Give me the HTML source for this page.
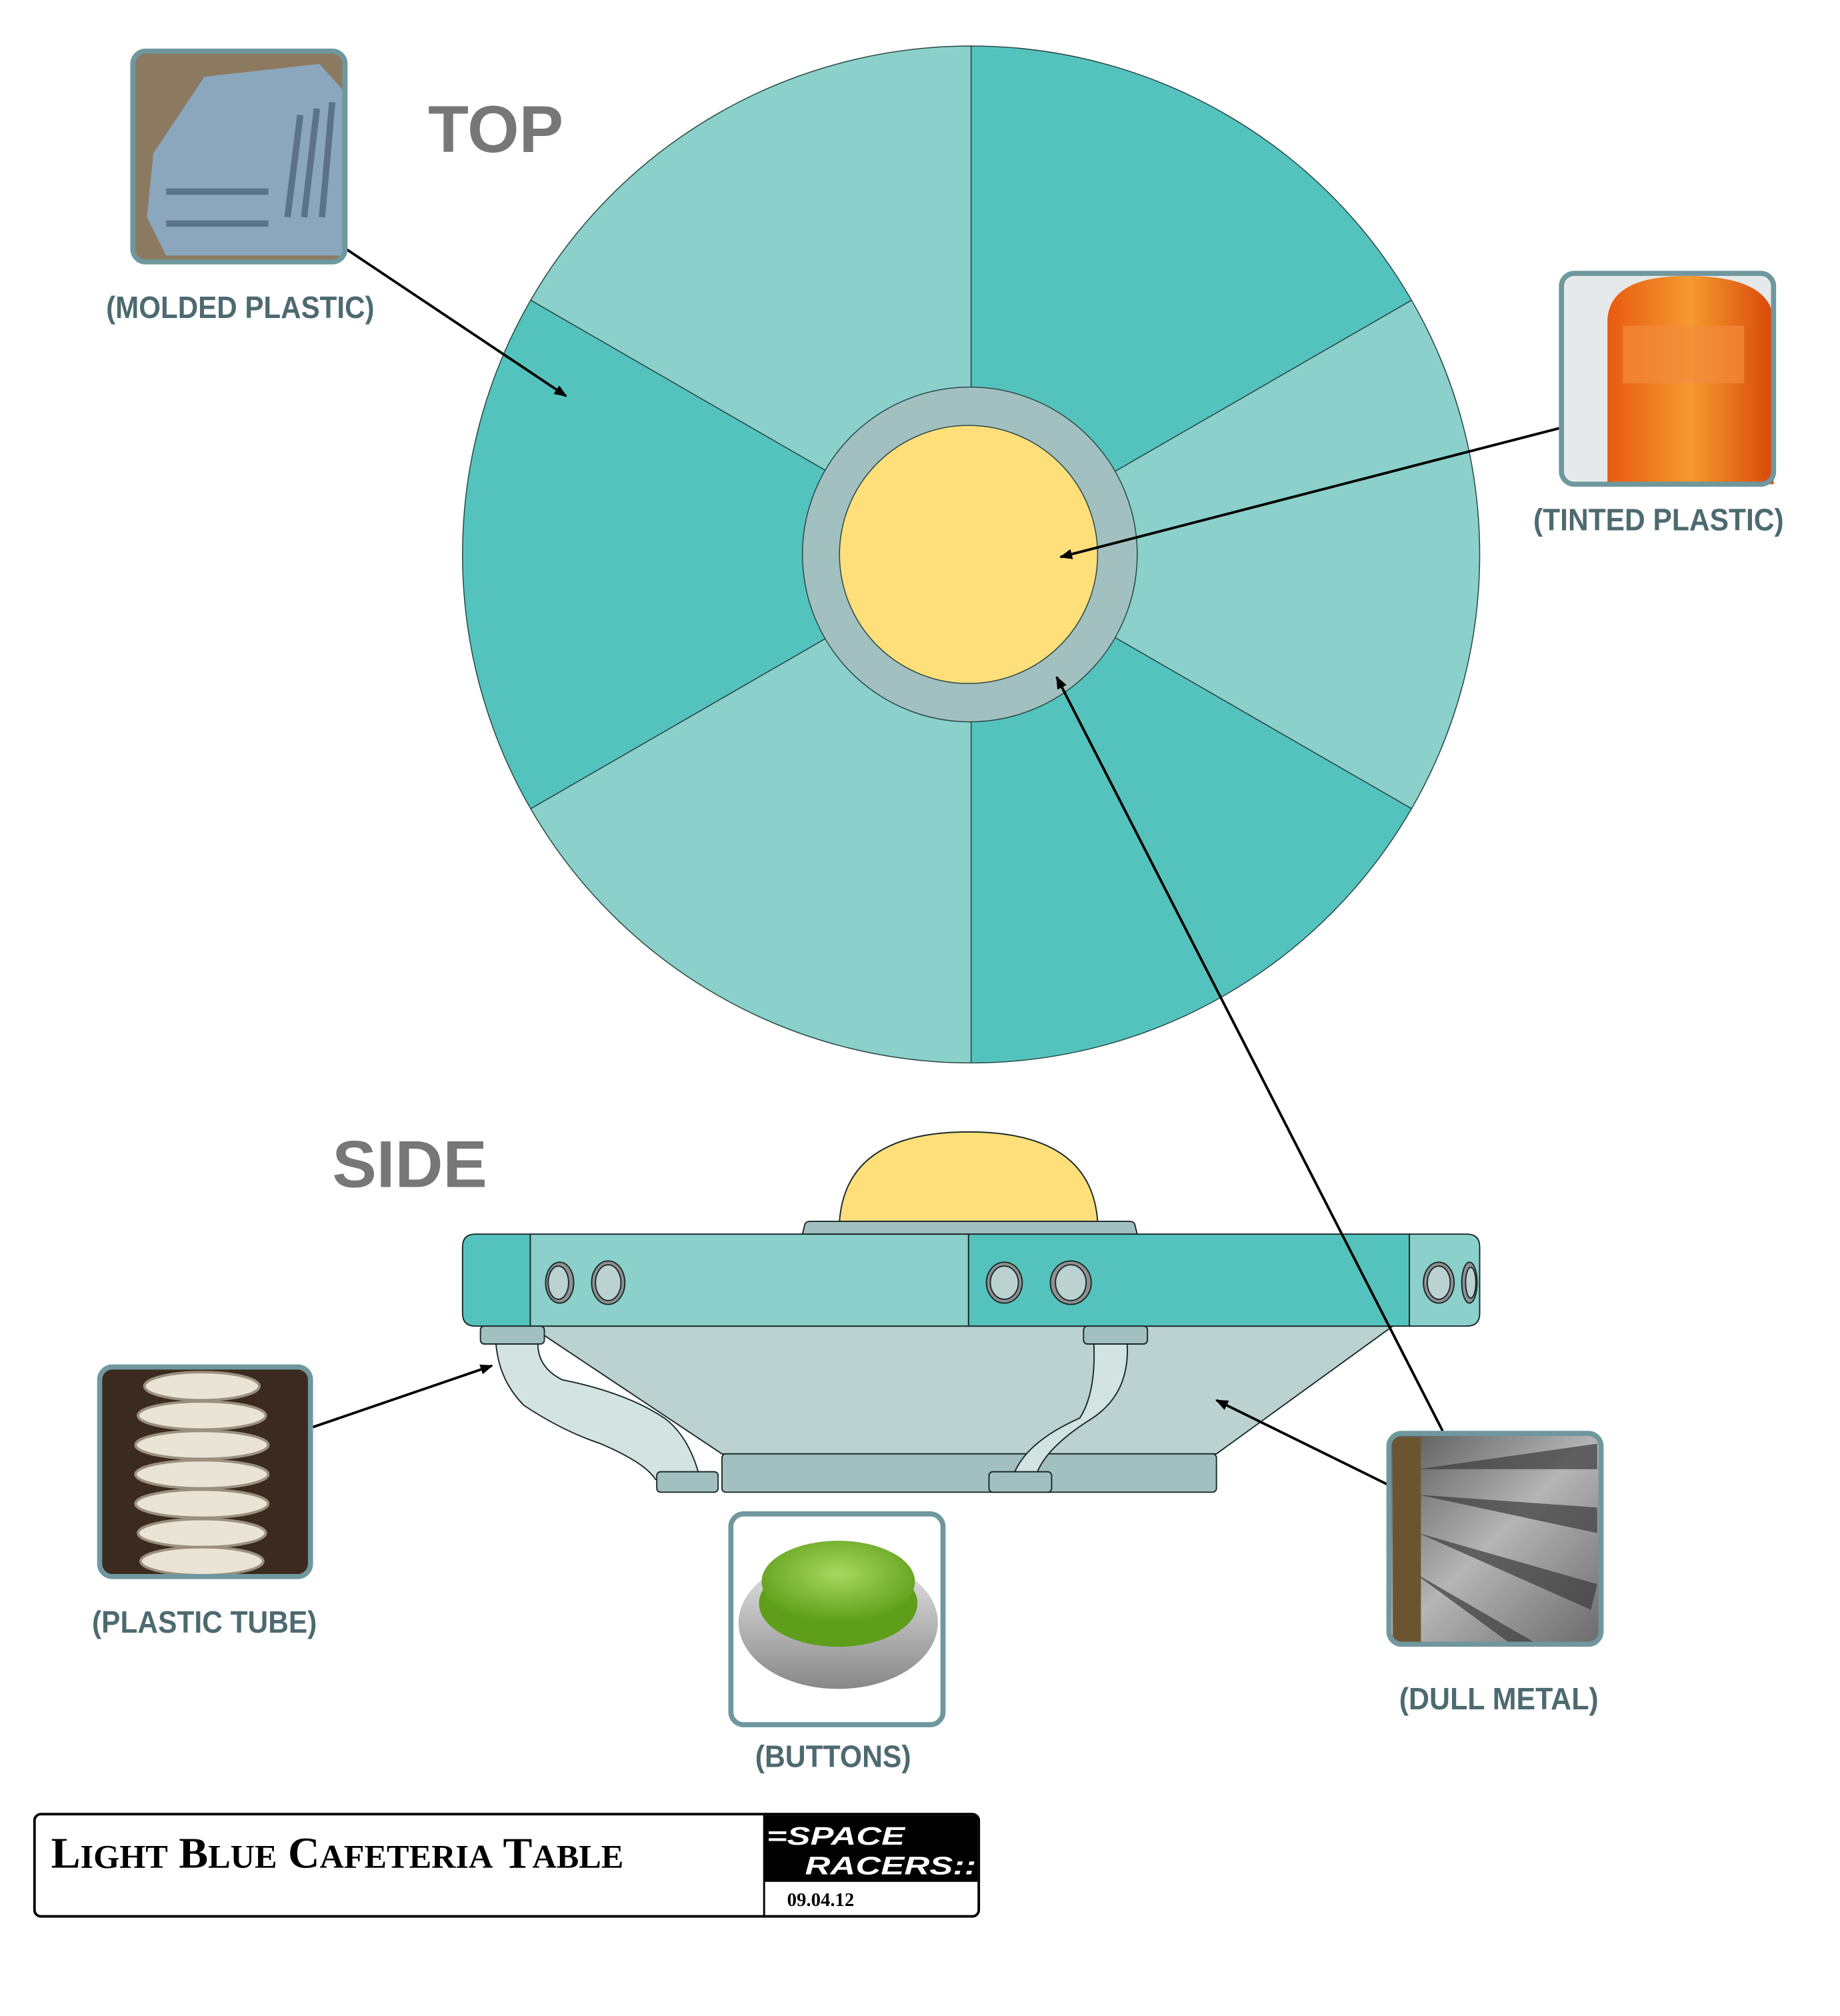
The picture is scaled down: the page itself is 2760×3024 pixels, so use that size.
<!DOCTYPE html>
<html><head><meta charset="utf-8"><style>
html,body{margin:0;padding:0;background:#fff;}
svg{display:block;}
text{font-family:"Liberation Sans",sans-serif;}
</style></head><body>
<svg width="2760" height="3024" viewBox="0 0 1440 1578" preserveAspectRatio="none" xmlns="http://www.w3.org/2000/svg">
<defs>
<marker id="ah" markerWidth="10" markerHeight="8" refX="9" refY="4" orient="auto" markerUnits="userSpaceOnUse">
<path d="M0,0 L10,4 L0,8 Z" fill="#000"/></marker>
<radialGradient id="btn" cx="50%" cy="40%" r="60%"><stop offset="0" stop-color="#a8d860"/><stop offset="1" stop-color="#5e9e1a"/></radialGradient>
<linearGradient id="ring" x1="0" y1="0" x2="0" y2="1"><stop offset="0" stop-color="#e8e8e8"/><stop offset="1" stop-color="#888"/></linearGradient>
<linearGradient id="orng" x1="0" y1="0" x2="1" y2="0"><stop offset="0" stop-color="#e85a10"/><stop offset="0.5" stop-color="#f59a30"/><stop offset="1" stop-color="#d84808"/></linearGradient>
<linearGradient id="metal" x1="0" y1="0" x2="1" y2="1"><stop offset="0" stop-color="#555"/><stop offset="0.5" stop-color="#b5b5b5"/><stop offset="1" stop-color="#6a6a6a"/></linearGradient>
</defs>

<g stroke="#2a4a48" stroke-width="0.8">
<path d="M760,434 L415.3,235 A398,398 0 0 1 760,36 Z" fill="#8bd0ca"/>
<path d="M760,434 L760,36 A398,398 0 0 1 1104.7,235 Z" fill="#55c3bd"/>
<path d="M760,434 L1104.7,235 A398,398 0 0 1 1104.7,633 Z" fill="#8bd0ca"/>
<path d="M760,434 L1104.7,633 A398,398 0 0 1 760,832 Z" fill="#55c3bd"/>
<path d="M760,434 L760,832 A398,398 0 0 1 415.3,633 Z" fill="#8bd0ca"/>
<path d="M760,434 L415.3,633 A398,398 0 0 1 415.3,235 Z" fill="#55c3bd"/>
<circle cx="759" cy="434" r="131" fill="#a2c0bf"/>
<circle cx="758" cy="434" r="101" fill="#fedf7a"/>
</g>
<text x="335" y="119" font-size="52" font-weight="bold" fill="#777">TOP</text>
<text x="260" y="929" font-size="52" font-weight="bold" fill="#777">SIDE</text>

<g stroke="#1a2a2a" stroke-width="1">
<path d="M657,956 Q662,886 758,886 Q854,886 859,956 Z" fill="#fedf7a"/>
<path d="M628,966 L630,958 Q631,956 634,956 L884,956 Q887,956 888,958 L890,966 Z" fill="#a2c0bf"/>
<path d="M415,1038 L1090,1038 L952,1138 L565,1138 Z" fill="#bbd2d0"/>
<rect x="565" y="1138" width="387" height="30" rx="3" fill="#a2c0bf"/>
<path d="M372,966 L415,966 L415,1038 L372,1038 Q362,1038 362,1028 L362,976 Q362,966 372,966 Z" fill="#55c3bd"/>
<rect x="415" y="966" width="343" height="72" fill="#8bd0ca"/>
<rect x="758" y="966" width="345" height="72" fill="#55c3bd"/>
<path d="M1103,966 L1148,966 Q1158,966 1158,976 L1158,1028 Q1158,1038 1148,1038 L1103,1038 Z" fill="#8bd0ca"/>
<path d="M388,1050 Q390,1080 410,1100 Q440,1120 470,1130 Q505,1145 513,1158 L548,1158 Q540,1125 520,1110 Q490,1090 440,1080 Q420,1070 421,1050 Z" fill="#d3e3e2"/>
<path d="M856,1050 Q858,1090 845,1110 Q800,1130 792,1158 L810,1158 Q815,1135 855,1110 Q885,1090 882,1050 Z" fill="#d3e3e2"/>
<rect x="376" y="1038" width="50" height="14" rx="3" fill="#a2c0bf"/>
<rect x="848" y="1038" width="50" height="14" rx="3" fill="#a2c0bf"/>
<rect x="514" y="1152" width="48" height="16" rx="3" fill="#a2c0bf"/>
<rect x="774" y="1152" width="49" height="16" rx="3" fill="#a2c0bf"/>
</g>
<g fill="#bbd2d0" stroke="#1a2a2a" stroke-width="1">
<ellipse cx="438" cy="1004" rx="11" ry="16" fill="#909090"/><ellipse cx="437" cy="1004" rx="8" ry="13"/>
<ellipse cx="476" cy="1004" rx="13" ry="17" fill="#909090"/><ellipse cx="476" cy="1004" rx="10" ry="14"/>
<ellipse cx="786" cy="1004" rx="14" ry="16" fill="#909090"/><ellipse cx="786" cy="1004" rx="11" ry="13"/>
<ellipse cx="838" cy="1004" rx="16" ry="17" fill="#909090"/><ellipse cx="838" cy="1004" rx="12" ry="14"/>
<ellipse cx="1126" cy="1004" rx="12" ry="16" fill="#909090"/><ellipse cx="1126" cy="1004" rx="9" ry="13"/>
<ellipse cx="1150" cy="1004" rx="6" ry="16" fill="#909090"/><ellipse cx="1151" cy="1004" rx="4" ry="12"/>
</g>

<g stroke="#000" stroke-width="2" fill="none" marker-end="url(#ah)">
<line x1="271" y1="195" x2="443" y2="310"/>
<line x1="1221" y1="335" x2="830" y2="436"/>
<line x1="1129" y1="1120" x2="827" y2="530"/>
<line x1="245" y1="1117" x2="385" y2="1069"/>
<line x1="1086" y1="1162" x2="952" y2="1096"/>
</g>

<g>
<rect x="104" y="40" width="166" height="165" rx="10" fill="#8c7a60"/>
<path d="M120,120 L160,60 L250,50 L268,70 L268,200 L130,200 L115,170 Z" fill="#8aa7bd"/>
<g stroke="#5b7388" stroke-width="5"><line x1="235" y1="90" x2="225" y2="170"/><line x1="248" y1="85" x2="238" y2="170"/><line x1="260" y1="80" x2="252" y2="170"/><line x1="130" y1="150" x2="210" y2="150"/><line x1="130" y1="175" x2="210" y2="175"/></g>
<rect x="104" y="40" width="166" height="165" rx="10" fill="none" stroke="#6f979e" stroke-width="4"/>
</g>
<g>
<rect x="1222" y="214" width="166" height="165" rx="10" fill="#e6e9ea"/>
<path d="M1258,379 L1258,250 Q1260,216 1320,216 Q1385,216 1388,250 L1388,379 Z" fill="url(#orng)"/>
<rect x="1270" y="255" width="95" height="45" fill="#f28c3c" opacity="0.7"/>
<rect x="1222" y="214" width="166" height="165" rx="10" fill="none" stroke="#6f979e" stroke-width="4"/>
</g>
<g>
<rect x="78" y="1070" width="165" height="164" rx="10" fill="#3a2a20"/>
<g fill="#e9e4d6" stroke="#9a9080" stroke-width="2">
<ellipse cx="158" cy="1085" rx="45" ry="11"/><ellipse cx="158" cy="1108" rx="50" ry="11"/><ellipse cx="158" cy="1131" rx="52" ry="11"/><ellipse cx="158" cy="1154" rx="52" ry="11"/><ellipse cx="158" cy="1177" rx="52" ry="11"/><ellipse cx="158" cy="1200" rx="50" ry="11"/><ellipse cx="158" cy="1222" rx="48" ry="11"/>
</g>
<rect x="78" y="1070" width="165" height="164" rx="10" fill="none" stroke="#6f979e" stroke-width="4"/>
</g>
<g>
<rect x="572" y="1185" width="166" height="165" rx="10" fill="#fff"/>
<ellipse cx="656" cy="1270" rx="78" ry="52" fill="url(#ring)"/>
<ellipse cx="656" cy="1255" rx="62" ry="34" fill="#5e9e1a"/>
<ellipse cx="656" cy="1238" rx="60" ry="32" fill="url(#btn)"/>
<rect x="572" y="1185" width="166" height="165" rx="10" fill="none" stroke="#6f979e" stroke-width="4"/>
</g>
<g>
<rect x="1087" y="1122" width="166" height="165" rx="10" fill="url(#metal)"/>
<g fill="#3c3c3c" opacity="0.7"><path d="M1110,1150 L1250,1130 L1250,1150 Z"/><path d="M1110,1170 L1250,1180 L1250,1200 Z"/><path d="M1110,1200 L1250,1240 L1245,1260 Z"/><path d="M1105,1230 L1200,1285 L1180,1285 Z"/></g>
<rect x="1090" y="1125" width="22" height="160" fill="#6b5530"/>
<rect x="1087" y="1122" width="166" height="165" rx="10" fill="none" stroke="#6f979e" stroke-width="4"/>
</g>

<g fill="#4d6a70" font-weight="bold">
<text x="188" y="249" font-size="24" text-anchor="middle" textLength="210" lengthAdjust="spacingAndGlyphs">(MOLDED PLASTIC)</text>
<text x="1298" y="415" font-size="24" text-anchor="middle" textLength="196" lengthAdjust="spacingAndGlyphs">(TINTED PLASTIC)</text>
<text x="160" y="1278" font-size="24" text-anchor="middle" textLength="176" lengthAdjust="spacingAndGlyphs">(PLASTIC TUBE)</text>
<text x="652" y="1383" font-size="24" text-anchor="middle" textLength="122" lengthAdjust="spacingAndGlyphs">(BUTTONS)</text>
<text x="1173" y="1338" font-size="24" text-anchor="middle" textLength="156" lengthAdjust="spacingAndGlyphs">(DULL METAL)</text>
</g>

<rect x="27" y="1420" width="739" height="80" rx="5" fill="#fff" stroke="#000" stroke-width="2"/>
<rect x="598" y="1421" width="167" height="52" fill="#000"/>
<line x1="598" y1="1420" x2="598" y2="1500" stroke="#000" stroke-width="1.5"/>
<text x="40" y="1462" style="font-family:'Liberation Serif',serif;" font-weight="bold" font-size="34" fill="#000" textLength="448" lengthAdjust="spacingAndGlyphs">L<tspan font-size="26">IGHT</tspan> B<tspan font-size="26">LUE</tspan> C<tspan font-size="26">AFETERIA</tspan> T<tspan font-size="26">ABLE</tspan></text>
<text x="600" y="1444" font-size="20" font-style="italic" font-weight="bold" fill="#fff" textLength="108" lengthAdjust="spacingAndGlyphs">=SPACE</text>
<text x="630" y="1467" font-size="20" font-style="italic" font-weight="bold" fill="#fff" textLength="134" lengthAdjust="spacingAndGlyphs">RACERS::</text>
<text x="616" y="1492" style="font-family:'Liberation Serif',serif;" font-weight="bold" font-size="15" fill="#000">09.04.12</text>
</svg>
</body></html>
